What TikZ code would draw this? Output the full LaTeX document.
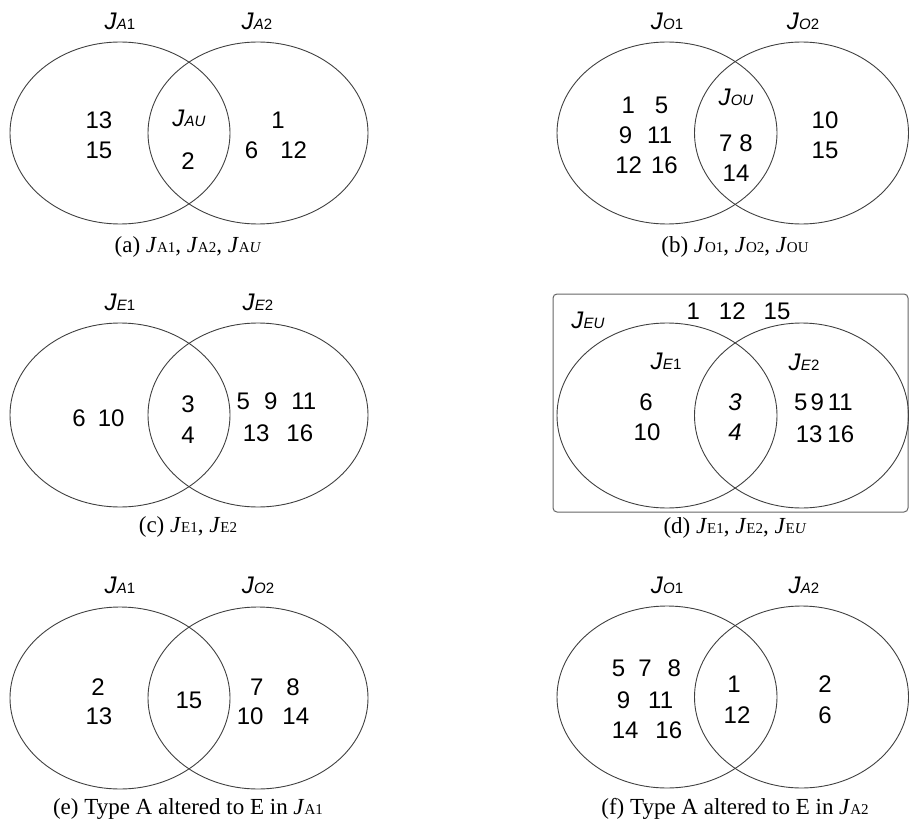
\documentclass[tikz,border=0pt]{standalone}
\usepackage{fontspec}
\setmainfont{Liberation Serif}
\setsansfont{Liberation Sans}
% set names: italic J, small letter(s) + index on the baseline
\newcommand{\Jset}[2]{\textit{J}{\fontsize{15}{15}\selectfont\textit{#1}#2}}
\newcommand{\Jcap}[2]{\textit{J}{\fontsize{15}{15}\selectfont #1\textit{#2}}}

\begin{document}
\begin{tikzpicture}[x=1pt, y=-1pt,
  ring/.style={draw=black!75, line width=0.9pt},
  num/.style={inner sep=0pt, font=\sffamily\fontsize{24}{28}\selectfont},
  capt/.style={inner sep=0pt, font=\fontsize{23}{27}\selectfont}]
  \useasboundingbox (0,0) rectangle (909,826);

  % (a)
  \draw[ring] (120,133) ellipse [x radius=110pt, y radius=91pt];
  \draw[ring] (258,133) ellipse [x radius=110pt, y radius=91pt];
  \node[num] (a-s1) at (120,21) {\Jset{A}{1}};
  \node[num] (a-s2) at (257,21) {\Jset{A}{2}};
  \node[num] (a-l1) at (99,120) {13};
  \node[num] (a-l2) at (99,150) {15};
  \node[num] (a-su) at (189,118) {\Jset{AU}{}};
  \node[num] (a-m1) at (188,161) {2};
  \node[num] (a-r1) at (278,120) {1};
  \node[num] (a-r2) at (276,150) {6\hspace{22pt}12};
  \node[capt] (a-cap) at (188,247) {(a) \Jcap{A1}{}, \Jcap{A2}{}, \Jcap{A}{U}};

  % (b)
  \draw[ring] (667,133) ellipse [x radius=110pt, y radius=91pt];
  \draw[ring] (801.5,133) ellipse [x radius=107pt, y radius=91pt];
  \node[num] (b-s1) at (667,21) {\Jset{O}{1}};
  \node[num] (b-s2) at (803,21) {\Jset{O}{2}};
  \node[num] (b-l1) at (645,105) {1\hspace{20pt}5};
  \node[num] (b-l2) at (645.5,135) {9\hspace{15pt}11};
  \node[num] (b-l3) at (646.5,165) {12\hspace{9pt}16};
  \node[num] (b-su) at (736,97) {\Jset{OU}{}};
  \node[num] (b-m1) at (736,143) {7\hspace{7pt}8};
  \node[num] (b-m2) at (736,173) {14};
  \node[num] (b-r1) at (825,120) {10};
  \node[num] (b-r2) at (825,150) {15};
  \node[capt] (b-cap) at (735,247) {(b) \Jcap{O1}{}, \Jcap{O2}{}, \Jcap{OU}{}};

  % (c)
  \draw[ring] (120,415) ellipse [x radius=110pt, y radius=92pt];
  \draw[ring] (258,415) ellipse [x radius=110pt, y radius=92pt];
  \node[num] (c-s1) at (120,302) {\Jset{E}{1}};
  \node[num] (c-s2) at (258,302) {\Jset{E}{2}};
  \node[num] (c-l1) at (98.5,418) {6\hspace{12pt}10};
  \node[num] (c-m1) at (188,404) {3};
  \node[num] (c-m2) at (188,435) {4};
  \node[num] (c-r1) at (276.5,401) {5\hspace{14pt}9\hspace{14pt}11};
  \node[num] (c-r2) at (278,433) {13\hspace{17pt}16};
  \node[capt] (c-cap) at (188,527) {(c) \Jcap{E1}{}, \Jcap{E2}{}};

  % (d)
  \draw[draw=black!60, line width=1pt, rounded corners=4pt] (553,294) rectangle (908,512);
  \draw[ring] (667,415.5) ellipse [x radius=110pt, y radius=92.5pt];
  \draw[ring] (801.5,415.5) ellipse [x radius=107pt, y radius=92.5pt];
  \node[num] (d-su) at (588,320) {\Jset{EU}{}};
  \node[num] (d-out) at (738.5,311) {1\hspace{19pt}12\hspace{18pt}15};
  \node[num] (d-s1) at (666,361) {\Jset{E}{1}};
  \node[num] (d-s2) at (804,362) {\Jset{E}{2}};
  \node[num] (d-l1) at (646,402) {6};
  \node[num] (d-l2) at (647,432) {10};
  \node[num] (d-m1) at (735,402) {\textit{3}};
  \node[num] (d-m2) at (735,432) {\textit{4}};
  \node[num] (d-r1) at (823.5,402) {5\hspace{3pt}9\hspace{4pt}11};
  \node[num] (d-r2) at (825,434) {13\hspace{5pt}16};
  \node[capt] (d-cap) at (735,528) {(d) \Jcap{E1}{}, \Jcap{E2}{}, \Jcap{E}{U}};

  % (e)
  \draw[ring] (120,698) ellipse [x radius=110pt, y radius=91pt];
  \draw[ring] (258,698) ellipse [x radius=110pt, y radius=91pt];
  \node[num] (e-s1) at (120,585) {\Jset{A}{1}};
  \node[num] (e-s2) at (258,585) {\Jset{O}{2}};
  \node[num] (e-l1) at (98,687) {2};
  \node[num] (e-l2) at (99,716) {13};
  \node[num] (e-m1) at (189,700) {15};
  \node[num] (e-r1) at (275,687) {7\hspace{23pt}8};
  \node[num] (e-r2) at (273,716) {10\hspace{19pt}14};
  \node[capt] (e-cap) at (188,809) {(e) Type A altered to E in \Jcap{A1}{}};

  % (f)
  \draw[ring] (667,697) ellipse [x radius=110pt, y radius=91pt];
  \draw[ring] (801.5,697) ellipse [x radius=107pt, y radius=91pt];
  \node[num] (f-s1) at (667,585) {\Jset{O}{1}};
  \node[num] (f-s2) at (804,585) {\Jset{A}{2}};
  \node[num] (f-l1) at (646.5,668) {5\hspace{13pt}7\hspace{16pt}8};
  \node[num] (f-l2) at (645,700) {9\hspace{18pt}11};
  \node[num] (f-l3) at (647,730) {14\hspace{17pt}16};
  \node[num] (f-m1) at (734,684) {1};
  \node[num] (f-m2) at (737,715) {12};
  \node[num] (f-r1) at (825,684) {2};
  \node[num] (f-r2) at (825,715) {6};
  \node[capt] (f-cap) at (735,809) {(f) Type A altered to E in \Jcap{A2}{}};
\end{tikzpicture}
\end{document}
